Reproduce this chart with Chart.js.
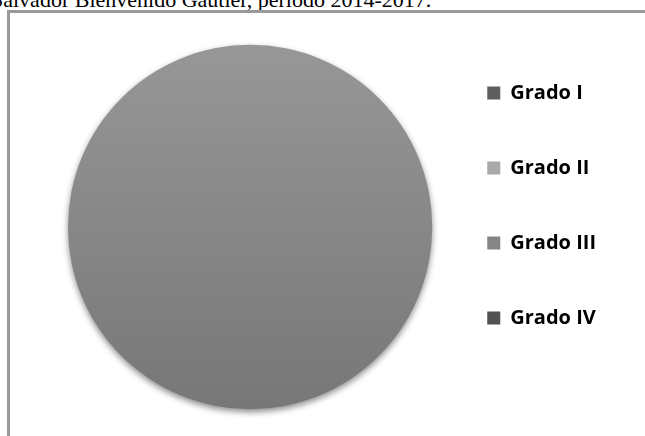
<!DOCTYPE html>
<html>
<head>
<meta charset="utf-8">
<script src="https://cdn.jsdelivr.net/npm/chart.js@4"></script>
<style>
  html, body { margin: 0; padding: 0; background: #fff; overflow: hidden; }
  body { width: 645px; height: 436px; position: relative; }
  #caption {
    position: absolute; left: -9px; top: -13px; white-space: nowrap;
    font-family: "Liberation Serif", "Times New Roman", serif; font-size: 22px; color: #000;
  }
  #frame {
    position: absolute; left: 7px; top: 10px; width: 660px; height: 460px;
    border-left: 3px solid #9a9a9a; border-top: 3px solid #9a9a9a;
  }
  #wrap { position: absolute; left: 10px; top: 13px; width: 635px; height: 423px; }
</style>
</head>
<body>
<div id="caption">Salvador Bienvenido Gautier, período 2014-2017.</div>
<div id="frame"></div>
<div id="wrap"><canvas id="pieChart"></canvas></div>
<script>
var grados = ["Grado I", "Grado II", "Grado III", "Grado IV"];
var porcentajes = [0, 0, 100, 0];
var colores = ["#5f5f5f", "#a9a9a9", "#858585", "#525252"];

// soft drop shadow under the pie
var shadowPlugin = {
    id: 'pieShadow',
    beforeDatasetDraw: function(chart) {
        var c = chart.ctx;
        c.save();
        c.shadowColor = "rgba(0,0,0,0.45)";
        c.shadowBlur = 6;
        c.shadowOffsetX = 0;
        c.shadowOffsetY = 3;
    },
    afterDatasetDraw: function(chart) {
        chart.ctx.restore();
    }
};

function pieFill(context) {
    var chart = context.chart;
    var area = chart.chartArea;
    if (!area) return colores[context.dataIndex];
    if (context.dataIndex != 2) return colores[context.dataIndex];
    var cy = (area.top + area.bottom) / 2;
    var g = chart.ctx.createLinearGradient(0, cy - 182, 0, cy + 182);
    g.addColorStop(0, "#979797");
    g.addColorStop(1, "#777777");
    return g;
}

var ctx = document.getElementById("pieChart").getContext("2d");
new Chart(ctx, {
    type: 'pie',
    data: {
        labels: grados,
        datasets: [{
            data: porcentajes,
            backgroundColor: pieFill,
            borderWidth: 0
        }]
    },
    options: {
        responsive: true,
        maintainAspectRatio: false,
        animation: false,
        layout: { padding: { top: 15, bottom: 10, left: 58, right: 39 } },
        plugins: {
            tooltip: { enabled: false },
            legend: {
                position: 'right',
                align: 'start',
                labels: {
                    boxWidth: 13,
                    boxHeight: 13,
                    padding: 55,
                    color: "#111",
                    font: { family: "'Open Sans', 'Noto Sans', sans-serif", size: 20, weight: 'bold' },
                    generateLabels: function(chart) {
                        return grados.map(function(g, i) {
                            return { text: g, fillStyle: colores[i], strokeStyle: colores[i], lineWidth: 0, hidden: false, index: i };
                        });
                    }
                }
            }
        }
    },
    plugins: [shadowPlugin]
});
</script>
</body>
</html>
